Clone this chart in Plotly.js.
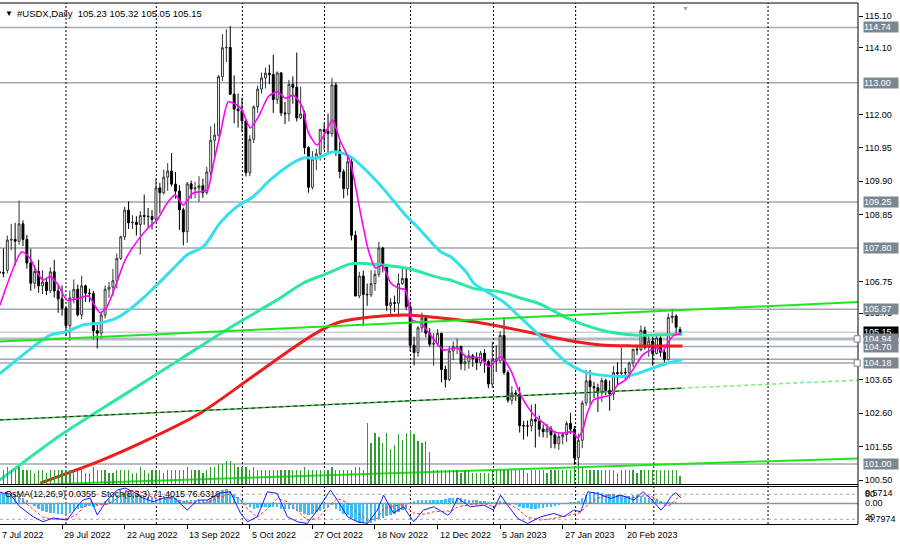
<!DOCTYPE html>
<html><head><meta charset="utf-8">
<script src="https://cdn.plot.ly/plotly-3.0.1.min.js"></script>
<style>html,body{margin:0;padding:0;background:#fff;overflow:hidden}#chart{width:900px;height:545px}</style>
</head><body><div id="chart"></div>
<script>
// ---- Daily USDX bars, 7 Jul 2022 .. 10 Mar 2023 (bar index 0..174) ----
const openP = [107.05,107.02,107.10,108.05,108.07,108.01,108.56,108.07,107.33,106.69,107.06,106.61,106.73,106.46,107.05,106.45,106.20,
105.90,105.36,106.23,106.50,105.70,106.61,106.38,106.37,105.20,105.12,105.69,106.50,106.57,106.77,107.47,108.15,108.99,108.59,108.61,108.54,108.82,108.80,108.79,
108.70,109.69,109.54,110.03,110.22,109.81,109.59,109.00,108.31,109.82,109.66,109.69,109.76,109.54,110.19,111.19,111.35,113.19,114.10,114.11,112.64,112.17,
112.12,111.80,110.17,111.22,112.24,112.80,113.15,113.30,113.26,112.47,113.31,112.05,112.02,112.95,112.86,111.89,112.02,110.96,109.71,110.60,110.76,
111.53,111.47,111.40,112.93,110.87,110.20,109.67,110.51,108.20,106.29,106.92,106.34,106.33,106.68,106.97,107.80,107.23,105.99,106.08,106.06,106.68,106.84,
105.95,104.74,104.51,105.29,105.59,105.12,104.77,104.80,105.11,103.98,103.66,104.56,104.70,104.70,104.16,104.22,104.41,104.32,104.20,104.49,104.23,
103.52,104.28,104.25,105.05,103.88,103.01,103.24,103.20,102.21,102.20,102.20,102.40,102.35,102.10,102.02,102.11,101.92,101.64,101.86,101.93,102.28,
102.10,101.20,101.75,102.92,103.62,103.44,103.40,103.24,103.63,103.32,103.21,103.88,103.85,103.88,103.87,104.18,104.61,104.60,105.21,104.67,
104.87,104.48,104.97,104.52,104.29,105.61,105.66,105.23];
const highP = [107.27,107.79,108.19,108.56,108.59,109.29,108.67,108.21,107.78,107.26,107.43,107.10,106.86,107.19,107.43,106.62,106.62,
105.95,106.46,106.81,106.65,106.93,106.65,106.52,106.45,105.46,105.80,106.62,106.73,107.14,107.63,108.19,109.09,109.27,108.83,108.80,108.96,109.48,109.06,109.00,
109.99,109.85,110.27,110.47,110.79,110.19,109.78,109.07,109.88,109.92,109.88,110.06,109.98,110.35,111.63,111.72,113.24,114.53,114.68,114.78,113.23,112.66,
112.53,111.85,111.35,112.29,112.91,113.32,113.47,113.57,113.88,113.36,113.33,112.40,113.09,113.20,113.95,112.88,112.13,111.00,110.85,110.92,111.55,
111.74,112.03,113.15,113.01,111.14,110.28,110.68,110.60,108.34,107.05,107.09,106.68,107.10,107.10,107.99,107.84,107.30,106.22,106.30,107.00,107.17,107.20,
106.10,105.01,105.35,105.77,105.67,105.28,105.12,105.25,105.14,104.10,104.71,104.86,104.95,104.73,104.45,104.58,104.47,104.52,104.56,104.62,104.28,
104.85,104.74,105.18,105.63,103.95,103.45,103.34,103.43,102.36,102.37,102.87,102.90,102.53,102.25,102.27,102.20,102.04,101.97,102.01,102.35,102.61,
102.20,101.96,103.00,103.96,103.96,103.59,103.53,103.72,103.69,103.63,104.09,104.20,104.67,104.03,104.22,104.63,104.75,105.36,105.32,105.05,
105.02,105.10,105.02,104.60,105.74,105.88,105.71,105.32];
const lowP = [106.56,106.88,107.00,107.73,107.25,107.90,107.86,107.15,106.45,106.52,106.39,106.35,106.32,106.38,106.24,105.76,105.67,
105.04,104.88,106.06,105.64,105.56,106.10,106.10,104.93,104.64,104.95,105.58,106.23,106.28,106.53,107.42,108.05,108.40,108.40,108.19,107.59,108.53,108.42,108.38,
108.65,108.89,109.48,109.60,109.74,109.35,108.37,107.88,107.96,109.35,109.37,109.25,109.38,109.48,110.05,110.65,111.31,113.06,113.65,112.61,111.72,111.59,
111.46,110.05,110.06,111.10,112.05,112.66,112.82,112.95,112.05,112.33,111.95,111.70,111.78,112.34,111.78,111.85,110.75,109.54,109.64,110.25,110.55,
110.90,110.75,111.30,110.70,109.99,109.36,109.45,108.04,106.28,106.22,105.34,105.98,106.26,106.45,106.88,107.03,105.82,105.72,105.79,105.63,106.64,105.85,
104.56,104.11,104.38,105.15,104.99,104.70,104.10,104.72,103.57,103.41,103.61,104.27,104.46,103.97,103.94,104.00,104.06,103.96,104.09,103.87,103.39,
103.40,103.90,104.18,103.81,102.93,102.87,102.99,101.99,101.77,101.87,102.03,101.52,101.86,101.84,101.82,101.50,101.49,101.45,101.62,101.70,101.95,
100.98,100.82,101.50,102.83,102.87,103.08,102.64,102.96,103.17,102.68,103.02,103.47,103.72,103.65,103.70,104.05,104.43,104.55,104.60,104.38,
104.10,104.45,104.38,104.10,104.26,105.43,105.10,105.05];
const closeP = [107.02,107.01,108.05,108.07,108.01,108.56,108.07,107.33,106.69,107.06,106.61,106.73,106.46,107.05,106.45,106.20,105.90,
105.36,106.23,106.50,105.70,106.61,106.38,106.37,105.20,105.12,105.69,106.50,106.57,106.77,107.47,108.15,108.99,108.59,108.61,108.54,108.82,108.80,108.79,108.70,
109.69,109.54,110.03,110.22,109.81,109.59,109.00,108.31,109.82,109.66,109.69,109.76,109.54,110.19,111.19,111.35,113.19,114.10,114.11,112.64,112.17,112.12,
111.80,110.17,111.22,112.24,112.80,113.15,113.30,113.26,112.47,113.31,112.05,112.02,112.95,112.86,111.89,112.02,110.96,109.71,110.60,110.76,111.53,
111.47,111.40,112.93,110.87,110.20,109.67,110.51,108.20,106.29,106.92,106.34,106.33,106.68,106.97,107.80,107.23,105.99,106.08,106.06,106.68,106.84,105.95,
104.74,104.51,105.29,105.59,105.12,104.77,104.80,105.11,103.98,103.66,104.56,104.70,104.70,104.16,104.22,104.41,104.32,104.20,104.49,104.23,103.52,
104.28,104.25,105.05,103.88,103.01,103.24,103.20,102.21,102.20,102.20,102.40,102.35,102.10,102.02,102.11,101.92,101.64,101.86,101.93,102.28,102.10,
101.20,101.75,102.92,103.62,103.44,103.40,103.24,103.63,103.32,103.21,103.88,103.85,103.88,103.87,104.18,104.61,104.60,105.21,104.67,104.87,
104.48,104.97,104.52,104.29,105.61,105.66,105.31,105.15];
const volume = [5,5,6,5,5,6,5,5,5,4,5,5,4,5,5,5,5,
5,5,5,5,6,4,4,6,5,5,5,4,4,5,5,5,5,4,4,6,5,4,5,
5,5,4,5,5,5,5,5,6,5,5,5,4,5,6,6,7,7,8,8,7,6,6,
6,5,6,5,5,5,5,5,5,5,5,5,5,5,5,6,5,5,5,5,5,5,6,5,5,5,5,5,6,6,5,
20.5,14,17.3,15.7,14,17.3,11.7,13.3,16.7,15,17.3,18.3,16.7,14.4,14,14.4,10.7,
5,5,5,5,5,5,5,4,5,5,4,4,4,4,4,5,5,5,5,5,5,5,5,5,4,5,5,5,5,4,5,5,5,5,5,5,6,6,6,5,5,5,5,5,5,5,5,4,5,5,5,5,4,5,5,5,5,5,5,5,5,5,5,3];
const osma = [0.35,0.38,0.38,0.36,0.33,0.30,0.22,0.12,0.03,
-0.10,-0.20,-0.28,-0.33,-0.36,-0.38,-0.40,-0.42,-0.42,-0.36,-0.30,-0.22,-0.16,-0.12,-0.10,-0.12,-0.10,
0.00,0.10,0.18,0.25,0.32,0.38,0.42,0.42,0.40,0.37,0.33,0.30,0.27,0.24,
0.22,0.22,0.24,0.25,0.24,0.20,0.15,0.10,0.12,0.12,0.12,0.12,0.12,0.15,0.22,0.30,0.42,0.52,0.57,0.48,0.38,0.25,0.12,
-0.05,-0.15,-0.20,-0.18,-0.15,-0.12,-0.12,-0.15,-0.15,-0.20,-0.22,-0.20,-0.22,-0.28,-0.35,-0.42,-0.45,-0.42,-0.35,-0.28,-0.20,-0.12,-0.08,
-0.20,-0.30,-0.40,-0.45,-0.55,-0.68,-0.75,-0.78,-0.78,-0.75,-0.70,-0.62,-0.55,-0.50,-0.45,-0.40,-0.32,-0.25,-0.20,
0.00,0.08,0.12,0.15,0.15,0.15,0.12,0.12,0.15,0.18,0.20,0.20,0.20,0.20,0.18,0.15,0.12,0.12,0.10,0.08,0.06,0.05,
0.05,0.08,0.04,0.00,-0.04,-0.08,-0.12,-0.16,-0.18,-0.20,-0.20,-0.18,-0.17,-0.15,-0.12,-0.10,-0.08,-0.04,0.00,0.04,0.06,0.08,
0.20,0.32,0.42,0.45,0.44,0.42,0.38,0.35,0.35,0.34,0.33,0.30,0.30,0.32,0.33,0.30,0.26,0.22,0.16,0.12,0.08,0.05,0.04,0.05,0.04,0.0355];

// ---- moving averages (bar index, price) ----
const maFastIdx = [0.1,5.7,7.8,9.5,11.1,12.9,15.0,17.2,19.8,22.7,25.7,27.5,29.6,32.1,35.1,38.0,40.3,42.8,44.9,47.0,49.5,53.1,54.7,56.5,58.5,60.7,62.0,64.1,66.2,68.7,71.0,73.1,75.1,77.4,79.0,81.2,83.3,85.1,87.2,89.7,92.3,94.3,96.1,97.9,100.0,102.0,103.8,105.5,107.7,110.2,113.5,117.1,119.2,123.0,125.1,128.1,130.7,132.7,135.0,137.1,139.1,141.7,144.3,146.5,147.8,149.1,150.3,151.9,154.5,156.3,158.0,160.1,162.2,164.4,166.5,168.3,169.5,170.8,172.4,174.2];
const maFastVal = [106.0,107.68,107.48,107.05,106.79,106.9,106.64,106.16,106.2,106.29,105.76,105.96,106.58,107.42,108.0,108.43,108.68,109.2,109.47,109.15,109.53,109.62,110.47,111.42,112.40,112.3,112.14,111.58,111.93,112.56,112.72,112.51,112.61,112.25,111.42,111.04,111.42,111.83,111.15,110.5,108.90,107.74,107.17,107.26,106.70,106.54,106.48,105.53,105.44,105.06,104.59,104.65,104.38,104.34,104.07,104.38,103.96,103.33,102.81,102.49,102.29,102.02,101.98,102.02,101.82,102.07,102.61,103.02,103.12,103.17,103.49,103.65,104.02,104.43,104.59,104.65,104.54,104.81,105.05,105.1];
const maMidIdx = [0.1,4.4,8.6,12.9,17.2,21.4,25.7,30.0,32.6,36.7,41.1,44.9,47.9,52.1,56.4,60.7,64.9,69.2,73.5,77.7,81.2,85.4,89.7,96.9,104.2,106.8,112.8,115.3,119.6,121.2,128.9,133.3,136.6,145.2,149.4,153.7,160.6,165.7,170.8,174.6];
const maMidVal = [103.85,104.28,104.69,105.06,105.17,105.38,105.44,105.60,105.80,106.22,106.74,107.21,107.58,107.84,108.59,109.10,109.42,109.94,110.36,110.63,110.63,110.83,110.67,109.84,108.78,108.47,107.68,107.53,107.0,106.70,106.1,105.60,105.22,104.18,103.91,103.80,103.77,103.96,104.18,104.28];
const maSlowIdx = [0.1,15.5,30.8,46.2,59.0,70.9,77.7,83.8,89.7,92.3,97.4,104.2,112.8,115.3,121.2,128.1,133.3,136.6,139.1,145.2,153.7,162.2,166.5,174.6];
const maSlowVal = [100.5,101.9,103.1,104.3,105.3,106.16,106.70,107.0,107.3,107.32,107.27,107.16,106.85,106.79,106.53,106.42,106.22,106.11,105.99,105.59,105.22,105.06,105.06,105.09];
const maLongIdx = [10.4,25.7,38.5,51.3,64.1,74.4,82.0,87.2,95.6,104.2,112.8,121.2,128.1,136.6,145.2,153.7,162.2,174.6];
const maLongVal = [100.4,101.1,101.8,102.6,103.7,104.6,105.2,105.48,105.64,105.69,105.60,105.48,105.33,105.12,104.9,104.75,104.72,104.72];

// ---- trend lines (bar index, price) ----
const trendUpIdx = [0,219.5],  trendUpVal = [104.86,106.10];
const trendMidIdx = [0,174.3], trendMidVal = [102.39,103.39];
const trendMidExtIdx = [174.3,219.5], trendMidExtVal = [103.39,103.64];
const trendLowIdx = [0,219.5], trendLowVal = [100.32,101.18];

// ---- stochastic (8,3,3) ----
const stochIdx = [0.1,2.7,5.2,8.6,11.1,13.7,17.3,19.8,21.4,23.2,25.0,27.5,30.1,32.1,34.2,36.7,39.3,41.9,44.4,48.0,50.6,53.1,56.4,59.0,61.6,63.4,65.9,68.5,71.0,73.6,76.2,78.7,81.3,84.6,86.4,89.0,91.5,94.1,96.6,98.2,100.7,103.3,105.9,108.4,111.0,114.6,115.3,117.1,120.4,123.8,126.3,128.1,129.9,132.5,135.0,138.4,141.7,144.3,146.8,148.6,150.4,152.9,156.3,158.9,162.2,164.5,166.5,169.1,170.4,171.7,172.9,174.2];
const stochK = [83.8,80.7,50.2,26.2,14.2,23,18.3,50,66.3,71,30.3,66.3,90,95,86,71,62,71,74,42,66,66,83,86,35,14,26,86,82,26,14,10,42,90,66,26,14,10,42,78,35,50,14,42,50,30,35,71,50,54,42,78,54,22,10,26,34,26,42,38,86,82,70,78,66,86,70,42,55,75,84,71.4];
const stochD = [85,84,70,45,25,20,20,32,48,62,55,55,70,85,90,84,72,68,70,60,58,60,72,82,66,45,25,45,70,62,40,18,22,55,70,60,35,18,22,45,52,55,35,32,38,40,38,50,55,58,50,58,58,45,25,18,22,28,32,36,55,70,80,76,72,76,76,62,52,55,68,76.6];

// ---- labels ----
const dateTickBars = [0,16,32,48,64,80,96,112,128,144,160];
const dateTickLabels = ["7 Jul 2022","29 Jul 2022","22 Aug 2022","13 Sep 2022","5 Oct 2022","27 Oct 2022","18 Nov 2022","12 Dec 2022","5 Jan 2023","27 Jan 2023","20 Feb 2023"];
const priceTicks = [115.10,114.10,112.00,110.95,109.90,108.85,106.75,105.75,103.65,102.60,101.55,100.50];
const levelPrices = [114.74,113.00,109.25,107.80,105.87,104.94,104.70,104.30,104.18,101.00];
const levelLabels = ["114.74","113.00","109.25","107.80","105.87","104.94","104.70","","104.18","101.00"];
const lastPrice = 105.15;
const monthGridBars = [17,40.1,62.1,83.1,105.1,126.3,147.3,167.3,196.5];

const bars = openP.map((_, i) => i);
const FONT = "Liberation Sans, Arial, sans-serif";

const traces = [
  {type:'bar', x:bars, y:volume, yaxis:'y3', width:0.32, marker:{color:'#2f9e2f', line:{width:0}}, hoverinfo:'skip'},
  {type:'candlestick', x:bars, open:openP, high:highP, low:lowP, close:closeP, xaxis:'x', yaxis:'y',
   increasing:{line:{color:'#333333', width:1}, fillcolor:'#ffffff'},
   decreasing:{line:{color:'#000000', width:1}, fillcolor:'#000000'}, whiskerwidth:0, hoverinfo:'skip'},
  {type:'scatter', mode:'lines', x:maLongIdx, y:maLongVal, yaxis:'y', line:{color:'#ee1c1c', width:3, shape:'spline', smoothing:0.8}, hoverinfo:'skip'},
  {type:'scatter', mode:'lines', x:maSlowIdx, y:maSlowVal, yaxis:'y', line:{color:'#2ee8a2', width:3, shape:'spline', smoothing:0.8}, hoverinfo:'skip'},
  {type:'scatter', mode:'lines', x:maMidIdx, y:maMidVal, yaxis:'y', line:{color:'#35e0ea', width:3, shape:'spline', smoothing:0.8}, hoverinfo:'skip'},
  {type:'scatter', mode:'lines', x:maFastIdx, y:maFastVal, yaxis:'y', line:{color:'#ff00ff', width:1.6, shape:'spline', smoothing:0.6}, hoverinfo:'skip'},
  {type:'scatter', mode:'lines', x:trendUpIdx, y:trendUpVal, yaxis:'y', line:{color:'#1ee61e', width:2}, hoverinfo:'skip'},
  {type:'scatter', mode:'lines', x:trendMidIdx, y:trendMidVal, yaxis:'y', line:{color:'#3fbf3f', width:1.5}, hoverinfo:'skip'},
  {type:'scatter', mode:'lines', x:trendMidIdx, y:trendMidVal, yaxis:'y', line:{color:'#222222', width:1, dash:'4px,3px'}, hoverinfo:'skip'},
  {type:'scatter', mode:'lines', x:trendMidExtIdx, y:trendMidExtVal, yaxis:'y', line:{color:'#77ee77', width:1.5, dash:'4px,3px'}, hoverinfo:'skip'},
  {type:'scatter', mode:'lines', x:trendLowIdx, y:trendLowVal, yaxis:'y', line:{color:'#1ee61e', width:2}, hoverinfo:'skip'},
  {type:'bar', x:bars, y:osma, yaxis:'y2', width:0.62, marker:{color:'#3cbff0', line:{width:0}}, hoverinfo:'skip'},
  {type:'scatter', mode:'lines', x:stochIdx, y:stochD, yaxis:'y4', line:{color:'#ff3030', width:1, dash:'3px,2px'}, hoverinfo:'skip'},
  {type:'scatter', mode:'lines', x:stochIdx, y:stochK, yaxis:'y4', line:{color:'#1a1aff', width:1}, hoverinfo:'skip'}
];

const shapes = [];
// level lines
levelPrices.forEach((v) => {
  const thick = Math.abs(v - 104.94) < 1e-6;
  shapes.push({type:'line', layer:'below', xref:'paper', x0:0, x1:1, yref:'y', y0:v, y1:v,
    line:{color: thick ? '#b4bac2' : '#a0a8b2', width: thick ? 3 : 1.5}});
});
shapes.push({type:'line', layer:'below', xref:'paper', x0:0, x1:1, yref:'y', y0:lastPrice, y1:lastPrice, line:{color:'#cdd1d6', width:1.5}});
// month grid
monthGridBars.forEach((b) => {
  shapes.push({type:'line', layer:'below', xref:'x', x0:b, x1:b, yref:'paper', y0:0, y1:1, line:{color:'#000000', width:1, dash:'2px,2px'}});
});
// stochastic levels and OsMA zero
[80,20].forEach((lv) => shapes.push({type:'line', layer:'below', xref:'paper', x0:0, x1:1, yref:'y4', y0:lv, y1:lv, line:{color:'#a8a8a8', width:1, dash:'3px,3px'}}));
shapes.push({type:'line', layer:'below', xref:'paper', x0:0, x1:1, yref:'y2', y0:0, y1:0, line:{color:'#8a949e', width:1.5}});
// panel borders
const mainBottom = 0.0758, subTop = 0.072;
shapes.push({type:'line', xref:'paper', x0:0, x1:1, yref:'paper', y0:1, y1:1, line:{color:'#000', width:1}});
shapes.push({type:'line', xref:'paper', x0:0, x1:1, yref:'paper', y0:mainBottom, y1:mainBottom, line:{color:'#000', width:1}});
shapes.push({type:'line', xref:'paper', x0:0, x1:1, yref:'paper', y0:subTop, y1:subTop, line:{color:'#000', width:1}});
shapes.push({type:'line', xref:'paper', x0:1, x1:1, yref:'paper', y0:0, y1:1, line:{color:'#000', width:1}});
// anchor squares
[104.94,104.18].forEach((v) => shapes.push({type:'rect', xref:'paper', x0:0.9955, x1:1.0025, yref:'y', y0:v-0.1, y1:v+0.1, line:{color:'#7a8290', width:1}, fillcolor:'#ffffff'}));

const annotations = [];
annotations.push({xref:'paper', yref:'paper', x:0.003, y:0.993, xanchor:'left', yanchor:'top', showarrow:false, text:'▼', font:{family:FONT, size:8, color:'#000'}});
annotations.push({xref:'paper', yref:'paper', x:0.017, y:0.995, xanchor:'left', yanchor:'top', showarrow:false,
  text:'#USDX,Daily  105.23 105.32 105.05 105.15', font:{family:FONT, size:9.5, color:'#000'}});
annotations.push({xref:'paper', yref:'paper', x:0.799, y:1.0, xanchor:'center', yanchor:'top', showarrow:false, text:'▼', font:{family:FONT, size:7, color:'#a0a0a0'}});
// current price box
annotations.push({xref:'paper', yref:'y', x:1, y:lastPrice, xanchor:'left', xshift:5, showarrow:false, text:lastPrice.toFixed(2),
  bgcolor:'#000000', font:{family:FONT, size:9, color:'#ffffff'}, width:34, height:10, borderpad:0, align:'left'});
levelPrices.forEach((v, i) => {
  if (!levelLabels[i]) return;
  annotations.push({xref:'paper', yref:'y', x:1, y:v, xanchor:'left', xshift:5, showarrow:false, text:levelLabels[i],
    bgcolor:'#7c8794', font:{family:FONT, size:9, color:'#ffffff'}, width:34, height:10, borderpad:0, align:'left'});
});
// date labels
dateTickBars.forEach((b, i) => {
  annotations.push({xref:'x', yref:'paper', x:Math.max(b, 0.2), y:0, xanchor:'left', yanchor:'top', yshift:-4, showarrow:false,
    text:dateTickLabels[i], font:{family:FONT, size:9, color:'#000'}});
});
// sub window texts
annotations.push({xref:'paper', yref:'paper', x:0.003, y:subTop - 0.001, xanchor:'left', yanchor:'top', showarrow:false,
  text:'OsMA(12,26,9) 0.0355  Stoch(8,3,3) 71.4015 76.6310', font:{family:FONT, size:9, color:'#000'}});
const subLab = [['0.5714', 492.5],['80', 494],['0.00', 503],['-0.7974', 518.5],['20', 517]];
subLab.forEach(([t, py]) => {
  annotations.push({xref:'paper', yref:'paper', x:1, y:(524 - py) / 521, xanchor:'left', yanchor:'middle', xshift:5, showarrow:false,
    text:t, font:{family:FONT, size:9, color:'#000'}});
});

const layout = {
  width:900, height:545,
  margin:{l:0, r:42, t:3, b:21, pad:0},
  paper_bgcolor:'#ffffff', plot_bgcolor:'#ffffff',
  showlegend:false, barmode:'overlay', bargap:0,
  font:{family:FONT, size:9, color:'#000'},
  xaxis:{range:[0.128, 219.5], anchor:'y2', showgrid:false, zeroline:false, showline:true, linecolor:'#000', linewidth:1,
    ticks:'outside', ticklen:4, tickcolor:'#000', tickvals:dateTickBars, showticklabels:false, rangeslider:{visible:false}, fixedrange:true},
  yaxis:{domain:[mainBottom, 1], range:[100.358, 115.509], side:'right', showgrid:false, zeroline:false, showline:false,
    ticks:'outside', ticklen:4, tickcolor:'#000', tickvals:priceTicks, ticktext:priceTicks.map(v => v.toFixed(2)),
    tickfont:{family:FONT, size:9, color:'#000'}, fixedrange:true},
  yaxis3:{overlaying:'y', range:[0, 160.5], visible:false, fixedrange:true},
  yaxis2:{domain:[0, subTop], range:[-0.8, 0.66], side:'right', visible:false, fixedrange:true},
  yaxis4:{overlaying:'y2', range:[8.7, 98.7], visible:false, fixedrange:true},
  shapes:shapes, annotations:annotations
};

Plotly.newPlot('chart', traces, layout, {staticPlot:true, displayModeBar:false});
</script></body></html>
